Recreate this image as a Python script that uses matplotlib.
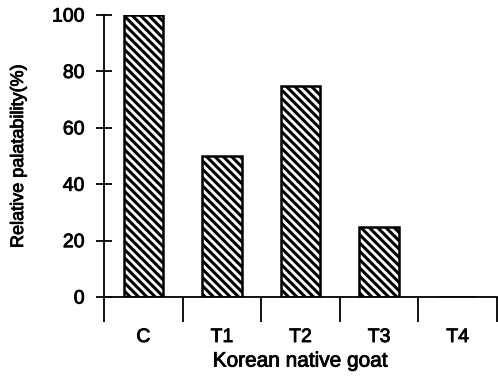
import matplotlib
matplotlib.use("Agg")
import matplotlib.pyplot as plt
import matplotlib.patheffects as pe
import numpy as np

categories = ["C", "T1", "T2", "T3", "T4"]
values = [100, 50, 75, 25, 0]
yticks = [0, 20, 40, 60, 80, 100]

plt.rcParams['font.family'] = ['Liberation Sans', 'DejaVu Sans']
plt.rcParams['hatch.linewidth'] = 2.2

fig = plt.figure(figsize=(4.98, 3.77), dpi=100)
ax = fig.add_axes([0.209, 0.212, 0.789, 0.748])

x = np.arange(len(categories))
ax.bar(x, values, width=0.5, color='white', edgecolor='black', hatch='\\\\\\\\', linewidth=1.8)

ax.set_xlim(-0.5, 4.5)
ax.set_ylim(0, 100)
ax.spines['top'].set_visible(False)
ax.spines['right'].set_visible(False)
ax.spines['left'].set_linewidth(1.3)
ax.spines['bottom'].set_linewidth(1.3)

stroke = [pe.withStroke(linewidth=0.6, foreground='black')]

ax.set_yticks(yticks)
ax.tick_params(axis='y', direction='inout', length=12, width=1.3, labelsize=14, pad=8)
ax.set_xticks(x)
ax.set_xticklabels(categories)
ax.tick_params(axis='x', which='major', length=0, labelsize=14, pad=23)
ax.set_xticks(np.arange(-0.5, 5, 1), minor=True)
ax.tick_params(axis='x', which='minor', direction='out', length=18, width=1.3)
for t in ax.get_xticklabels() + ax.get_yticklabels():
    t.set_path_effects(stroke)

xl = ax.set_xlabel("Korean native goat", fontsize=15, labelpad=4)
yl = ax.set_ylabel("Relative palatability(%)", fontsize=13, labelpad=18)
xl.set_path_effects(stroke)
yl.set_path_effects(stroke)

fig.savefig("out.png", dpi=100)
